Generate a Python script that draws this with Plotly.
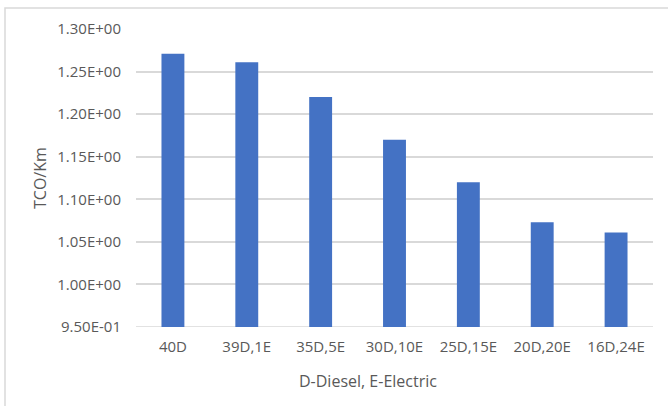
import plotly.graph_objects as go

# Fleet mix (diesel / electric buses) and total cost of ownership per km
categories = ["40D", "39D,1E", "35D,5E", "30D,10E", "25D,15E", "20D,20E", "16D,24E"]
tco_per_km = [1.271, 1.261, 1.220, 1.170, 1.120, 1.073, 1.061]
y_ticks = [0.95, 1.00, 1.05, 1.10, 1.15, 1.20, 1.25, 1.30]
y_tick_labels = [f"{v:.2E}" for v in y_ticks]

W, H = 668, 406
L, R, T, B = 136, 15, 29, 79
FONT = "Open Sans"
GREY = "#595959"

fig = go.Figure(
    go.Bar(
        x=categories,
        y=tco_per_km,
        marker=dict(color="#4472C4", line=dict(width=0)),
        width=0.31,
    )
)

fig.update_layout(
    width=W,
    height=H,
    margin=dict(l=L, r=R, t=T, b=B),
    paper_bgcolor="white",
    plot_bgcolor="white",
    showlegend=False,
    font=dict(family=FONT, size=15, color=GREY),
    xaxis=dict(
        showgrid=False,
        showline=False,
        zeroline=False,
        ticks="",
        tickfont=dict(family=FONT, size=15, color=GREY),
        ticklabelstandoff=9,
    ),
    yaxis=dict(
        range=[0.95, 1.30],
        tickvals=y_ticks,
        ticktext=y_tick_labels,
        showgrid=True,
        gridcolor="#D9D9D9",
        gridwidth=1.5,
        zeroline=False,
        showline=False,
        ticks="",
        ticklabelstandoff=14,
        tickfont=dict(family=FONT, size=15, color=GREY),
    ),
    shapes=[
        # chart-area border
        dict(
            type="rect",
            xref="paper",
            yref="paper",
            x0=(5 - L) / (W - L - R),
            x1=(W + 20 - L) / (W - L - R),
            y0=(H - B - (H + 20)) / (H - T - B),
            y1=(H - B - 8) / (H - T - B),
            line=dict(color="#D9D9D9", width=1.5),
            fillcolor="rgba(0,0,0,0)",
            layer="below",
        ),
        # baseline at the axis minimum
        dict(
            type="line",
            xref="paper",
            yref="y",
            x0=0,
            x1=1,
            y0=0.95,
            y1=0.95,
            line=dict(color="#D9D9D9", width=1.5),
            layer="below",
        ),
    ],
    annotations=[
        dict(
            text="TCO/Km",
            xref="paper",
            yref="paper",
            x=(40 - L) / (W - L - R),
            y=0.5,
            textangle=-90,
            showarrow=False,
            font=dict(family=FONT, size=16, color=GREY),
            xanchor="center",
            yanchor="middle",
        ),
        dict(
            text="D-Diesel, E-Electric",
            xref="paper",
            yref="paper",
            x=(368 - L) / (W - L - R),
            y=(H - B - 381) / (H - T - B),
            showarrow=False,
            font=dict(family=FONT, size=16, color=GREY),
            xanchor="center",
            yanchor="middle",
        ),
    ],
)

fig.write_html("out.html")
